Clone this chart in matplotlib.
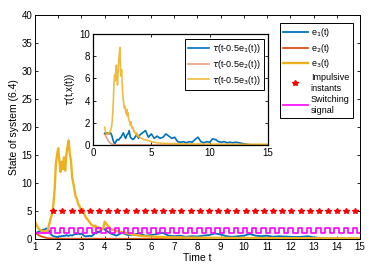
import numpy as np
import matplotlib

matplotlib.use("Agg")

import matplotlib.pyplot as plt  # noqa: E402

plt.rcParams["font.family"] = ["Liberation Sans", "DejaVu Sans"]

# --- data ------------------------------------------------------------------
# fine grid 1.00..4.00 (step 0.05), coarse grid 4.25..15 (step 0.25)
t_fine = np.round(np.arange(1.0, 4.0001, 0.05), 2)
t_coarse = np.round(np.arange(4.25, 15.0001, 0.25), 2)
t_main = np.concatenate([t_fine, t_coarse])

e3 = [3.1, 2.6, 2.2, 1.9, 1.7, 1.6, 1.5, 1.3, 1.4, 1.2,
      1.3, 1.6, 2.4, 3.3, 4.0, 4.8, 6.5, 9.0, 13.5, 15.0,
      16.2, 14.0, 12.0, 13.8, 12.5, 14.6, 12.2, 15.0, 16.5, 17.6,
      15.2, 14.0, 11.0, 10.0, 8.8, 7.6, 7.2, 6.4, 6.0, 5.5,
      4.8, 5.4, 4.7, 4.2, 3.8, 3.6, 3.3, 3.0, 2.7, 2.5,
      2.3, 2.2, 2.4, 2.0, 1.9, 2.1, 1.9, 1.7, 1.8, 2.0,
      3.1,
      1.8, 1.5, 1.2, 1.0, 0.8, 0.6, 0.5, 0.45, 0.4, 0.35,
      0.3, 0.3, 0.28, 0.26, 0.25, 0.24, 0.22, 0.22, 0.2, 0.2,
      0.2, 0.19, 0.18, 0.18, 0.17, 0.17, 0.16, 0.16, 0.15, 0.15,
      0.15, 0.14, 0.14, 0.14, 0.13, 0.13, 0.13, 0.12, 0.12, 0.12,
      0.12, 0.12, 0.11, 0.11]

e1 = [1.0, 1.1, 1.2, 1.3, 1.4, 1.5, 1.6, 1.7, 1.6, 1.8,
      1.9, 1.8, 1.5, 1.1, 0.8, 0.6, 0.5, 0.45, 0.4, 0.35,
      0.4, 0.5, 0.45, 0.55, 0.5, 0.6, 0.55, 0.7, 0.6, 0.55,
      0.65, 0.7, 0.6, 0.75, 0.8, 0.9, 0.85, 1.0, 0.9, 0.85,
      1.0, 0.8, 0.6, 0.5, 0.45, 0.55, 0.5, 0.6, 0.5, 0.55,
      0.7, 0.9, 1.1, 1.0, 1.3, 1.2, 1.4, 1.6, 1.8, 1.9,
      1.7,
      1.0, 0.6, 1.1, 0.7, 0.8, 1.0, 0.6, 0.7, 0.9, 1.1,
      0.6, 0.5, 0.6, 0.4, 0.5, 0.45, 0.6, 0.7, 1.0, 0.8,
      0.5, 0.4, 0.5, 0.6, 0.9, 0.6, 0.5, 0.6, 0.4, 0.5,
      0.45, 0.4, 0.35, 0.4, 0.5, 0.3, 0.2, 0.1, 0.08, 0.05,
      0.05, 0.04, 0.03, 0.03]

t_e2 = [1.0, 1.05, 1.1, 1.15, 1.2, 1.25, 1.3, 1.4, 1.5, 1.6,
        1.7, 1.8, 2.0, 2.5, 3.0, 5.0, 8.0, 15.0]
e2 = [1.2, 1.0, 0.85, 0.7, 0.6, 0.5, 0.42, 0.3, 0.2, 0.14,
      0.1, 0.08, 0.06, 0.05, 0.05, 0.04, 0.03, 0.02]

# inset: tau(t - 0.5 e_i(t))
t_in_fine = np.round(np.arange(1.0, 4.0001, 0.1), 2)
t_in = np.concatenate([t_in_fine, t_coarse])

tau3_t = t_fine
tau3 = [1.6, 1.3, 1.1, 1.0, 1.05, 0.95, 1.0, 1.1, 1.0, 1.2,
        1.3, 1.5, 1.7, 2.2, 2.9, 4.2, 5.6, 6.3, 5.8, 6.6,
        7.2, 6.0, 5.4, 6.5, 7.6, 8.2, 8.8, 7.0, 6.2, 6.8,
        5.5, 4.6, 4.0, 3.6, 3.3, 3.5, 3.0, 2.8, 3.2, 2.6,
        2.9, 2.4, 2.2, 2.0, 1.8, 2.1, 1.7, 1.5, 1.6, 1.4,
        1.2, 1.3, 1.1, 1.0, 0.9, 1.1, 0.8, 0.9, 0.7, 0.8,
        0.7]
tau3_tail_t = t_coarse
tau3_tail = [0.55, 0.45, 0.4, 0.3, 0.25, 0.2, 0.18, 0.15, 0.14, 0.13,
             0.12, 0.12, 0.11, 0.11, 0.1, 0.1, 0.1, 0.1, 0.09, 0.09,
             0.09, 0.09, 0.09, 0.08, 0.08, 0.08, 0.08, 0.08, 0.08, 0.08,
             0.08, 0.07, 0.07, 0.07, 0.07, 0.07, 0.07, 0.07, 0.07, 0.07,
             0.07, 0.07, 0.07, 0.07]

tau1 = [1.05, 1.0, 1.1, 1.05, 1.0, 1.1, 0.9, 0.5, 0.2, 0.15,
        0.4, 0.5, 0.45, 0.6, 0.7, 0.9, 1.1, 0.8, 0.6, 0.9,
        1.0, 1.3, 0.7, 0.6, 0.5, 0.55, 0.7, 0.9, 0.8, 0.6,
        0.9,
        1.1, 1.3, 0.7, 1.0, 0.6, 0.8, 0.6, 0.7, 1.0, 0.8,
        0.6, 0.7, 0.3, 0.25, 0.3, 0.2, 0.3, 0.25, 0.5, 0.7,
        0.3, 0.2, 0.3, 0.25, 0.55, 0.5, 0.3, 0.25, 0.3, 0.2,
        0.25, 0.2, 0.25, 0.2, 0.15, 0.1, 0.05, 0.02, 0.02, 0.01,
        0.01, 0.01, 0.01, 0.01]

t_tau2 = [1.0, 1.1, 1.2, 1.3, 1.4, 1.5, 1.6, 1.8, 2.0, 15.0]
tau2 = [1.0, 0.8, 0.6, 0.4, 0.25, 0.15, 0.08, 0.03, 0.01, 0.0]

# impulsive instants (all at level 5) and switching levels
impulse_t = [1.79, 2.18, 2.58, 2.97, 3.37, 3.76, 4.16, 4.55, 4.94, 5.34,
             5.73, 6.13, 6.52, 6.92, 7.31, 7.70, 8.10, 8.49, 8.89, 9.28,
             9.68, 10.07, 10.46, 10.86, 11.25, 11.65, 12.04, 12.44, 12.83,
             13.22, 13.62, 14.01, 14.41, 14.80]
impulse_level = 5
sigma_low, sigma_high = 1.0, 1.9

# switching signal as a step: high from t_k-0.12 to t_k+0.08
sw_t = [1.0]
sw_y = [sigma_low]
for tk in impulse_t:
    sw_t += [tk - 0.12, tk - 0.12, tk + 0.08, tk + 0.08]
    sw_y += [sigma_low, sigma_high, sigma_high, sigma_low]
sw_t.append(15.0)
sw_y.append(sigma_low)

BLUE, ORANGE, YELLOW, MAGENTA = "#0072BD", "#D95319", "#EDB120", "#FF00FF"

fig = plt.figure(figsize=(3.75, 2.74), dpi=100)
ax = fig.add_axes([0.0933, 0.1277, 0.8667, 0.8175])

ax.plot(t_main, e1, color=BLUE, lw=1.3, label="e$_1$(t)")
ax.plot(t_e2, e2, color=ORANGE, lw=1.3, label="e$_2$(t)")
ax.plot(t_main, e3, color=YELLOW, lw=1.7, label="e$_3$(t)")
ax.plot(impulse_t, [impulse_level] * len(impulse_t), ls="none", marker="*",
        color="red", ms=4, label="Impulsive\ninstants")
ax.plot(sw_t, sw_y, color=MAGENTA, lw=1.2, label="Switching\nsignal")

ax.set_xlim(1, 15)
ax.set_ylim(0, 40)
ax.set_xticks(range(1, 16))
ax.set_yticks(range(0, 41, 5))
ax.tick_params(direction="in", top=True, right=True, labelsize=7,
               length=2.5, width=0.6, pad=2)
ax.set_xlabel("Time t", fontsize=7.5, labelpad=1)
ax.set_ylabel("State of system (6.4)", fontsize=7.5, labelpad=2)
for s in ax.spines.values():
    s.set_linewidth(0.7)

leg = ax.legend(loc="upper right", bbox_to_anchor=(0.978, 0.965),
                fontsize=6.5, frameon=True, fancybox=False, edgecolor="black",
                framealpha=1, handlelength=2.8, borderpad=0.35,
                labelspacing=0.3, handletextpad=0.3, borderaxespad=0)
leg.get_frame().set_linewidth(0.7)

# inset
axi = fig.add_axes([0.248, 0.4708, 0.4667, 0.405])
axi.plot(t_in, tau1, color=BLUE, lw=1.2, label=r"$\tau$(t-0.5e$_1$(t))")
axi.plot(t_tau2, tau2, color=ORANGE, lw=1.2, alpha=0.55,
         label=r"$\tau$(t-0.5e$_2$(t))")
axi.plot(np.concatenate([tau3_t, tau3_tail_t]), tau3 + tau3_tail,
         color=YELLOW, lw=1.2, alpha=0.85, label=r"$\tau$(t-0.5e$_3$(t))")
axi.set_xlim(0, 15)
axi.set_ylim(0, 10)
axi.set_xticks([0, 5, 10, 15])
axi.set_yticks(range(0, 11, 2))
axi.tick_params(direction="in", top=True, right=True, labelsize=7,
                length=2.5, width=0.6, pad=2)
axi.set_ylabel(r"$\tau$(t,x(t))", fontsize=7, labelpad=2)
for s in axi.spines.values():
    s.set_linewidth(0.9)
legi = axi.legend(loc="upper right", bbox_to_anchor=(0.977, 0.955),
                  fontsize=6.5, frameon=True, fancybox=False,
                  edgecolor="black", framealpha=1, handlelength=2.4,
                  borderpad=0.35, labelspacing=0.3, handletextpad=0.3,
                  borderaxespad=0)
legi.get_frame().set_linewidth(0.7)

fig.savefig("out.png", dpi=100, facecolor="white")
